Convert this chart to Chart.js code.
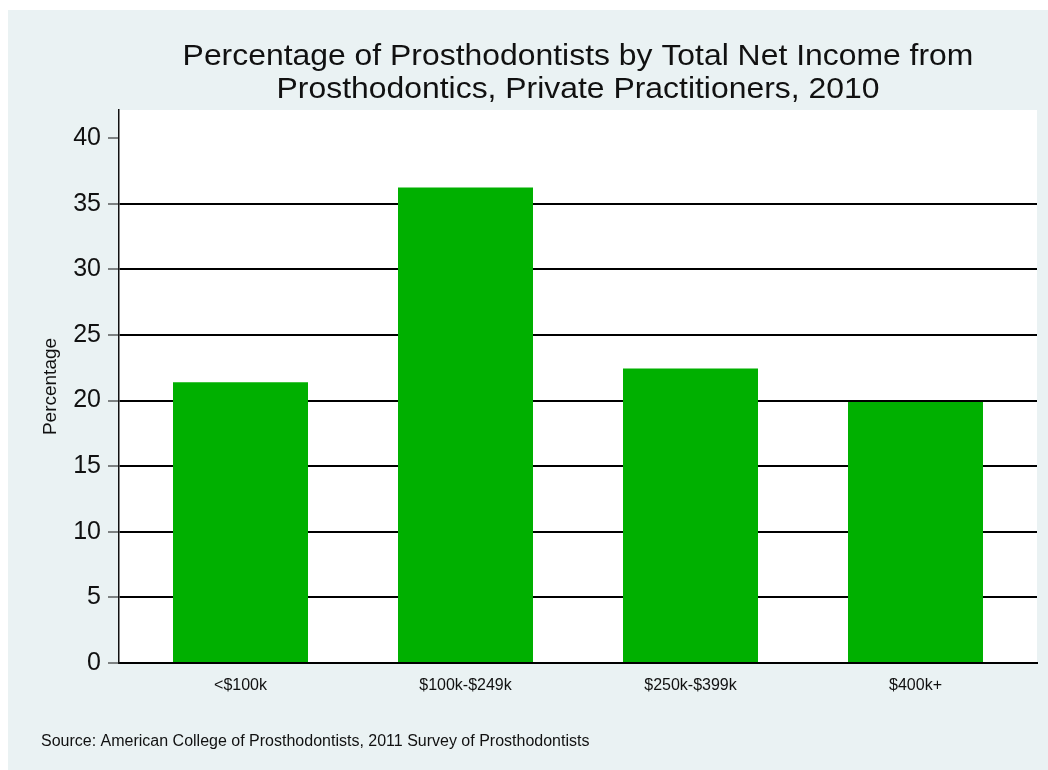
<!DOCTYPE html>
<html>
<head>
<meta charset="utf-8">
<script src="https://cdn.jsdelivr.net/npm/chart.js@4/dist/chart.umd.min.js"></script>
<style>
  html, body { margin: 0; padding: 0; background: #ffffff; }
  #wrap { width: 1048px; height: 770px; }
</style>
</head>
<body>
<div id="wrap"><canvas id="chart" width="1048" height="770"></canvas></div>
<script>
// Data
const categories = ['<$100k', '$100k-$249k', '$250k-$399k', '$400k+'];
const percentages = [21.4, 36.25, 22.45, 19.9];
const yTicks = [0, 5, 10, 15, 20, 25, 30, 35, 40];

const titleLines = [
    'Percentage of Prosthodontists by Total Net Income from',
    'Prosthodontics, Private Practitioners, 2010'
];
const sourceNote = 'Source: American College of Prosthodontists, 2011 Survey of Prosthodontists';

const FONT = '"Liberation Sans", Arial, Helvetica, sans-serif';

// Background panels, title and source note
const backdrop = {
    id: 'backdrop',
    beforeDraw(chart) {
        const { ctx, chartArea } = chart;
        ctx.save();
        ctx.fillStyle = '#ffffff';
        ctx.fillRect(0, 0, chart.width, chart.height);
        ctx.fillStyle = '#eaf2f3';
        ctx.fillRect(8, 10, chart.width - 8, chart.height - 10);
        ctx.fillStyle = '#ffffff';
        ctx.fillRect(chartArea.left, chartArea.top,
            chartArea.right - chartArea.left, chartArea.bottom - chartArea.top);
        ctx.restore();
    },
    afterDraw(chart) {
        const { ctx, chartArea } = chart;
        const cx = (chartArea.left + chartArea.right) / 2;
        ctx.save();
        ctx.fillStyle = '#111111';
        ctx.font = '29px ' + FONT;
        ctx.textAlign = 'center';
        ctx.textBaseline = 'alphabetic';
        [65, 98].forEach((y, i) => {
            ctx.save();
            ctx.translate(cx, y);
            ctx.scale(1.1, 1);
            ctx.fillText(titleLines[i], 0, 0);
            ctx.restore();
        });
        ctx.font = '16px ' + FONT;
        ctx.textAlign = 'left';
        ctx.fillText(sourceNote, 41, 746);
        ctx.restore();
    }
};

const ctx = document.getElementById('chart').getContext('2d');
const chart = new Chart(ctx, {
    type: 'bar',
    data: {
        datasets: [{
            label: 'Percentage',
            data: percentages.map((v, i) => ({ x: i, y: v })),
            backgroundColor: '#00b000',
            borderWidth: 0,
            categoryPercentage: 1,
            barPercentage: 0.6
        }]
    },
    options: {
        responsive: false,
        animation: false,
        layout: { padding: { left: 30, right: 11, top: 110, bottom: 0 } },
        plugins: {
            legend: { display: false },
            tooltip: { enabled: false }
        },
        scales: {
            x: {
                type: 'linear',
                offset: false,
                min: -0.54,
                max: 3.54,
                afterBuildTicks: (scale) => {
                    scale.ticks = categories.map((c, i) => ({ value: i }));
                },
                afterFit: (scale) => { scale.height = 107; },
                grid: { color: 'rgba(0,0,0,0)', drawTicks: false },
                border: { color: '#000000', width: 2 },
                ticks: {
                    autoSkip: false,
                    maxRotation: 0,
                    padding: 13,
                    color: '#111111',
                    font: { family: FONT, size: 16 },
                    callback: (v) => categories[v]
                }
            },
            y: {
                min: 0,
                max: 42.15,
                afterBuildTicks: (scale) => {
                    scale.ticks = yTicks.map(v => ({ value: v }));
                },
                afterFit: (scale) => { scale.width = 89; },
                grid: {
                    color: (c) => (c.tick && c.tick.value === 40) ? 'rgba(0,0,0,0)' : '#000000',
                    lineWidth: 2,
                    tickColor: '#111111',
                    tickWidth: 1,
                    tickLength: 11
                },
                border: { color: '#111111', width: 1.5 },
                ticks: {
                    padding: 7,
                    color: '#111111',
                    font: { family: FONT, size: 25 }
                },
                title: {
                    display: true,
                    text: 'Percentage',
                    color: '#111111',
                    padding: { top: 9, bottom: 0 },
                    font: { family: FONT, size: 19 }
                }
            }
        }
    },
    plugins: [backdrop]
});
</script>
</body>
</html>
